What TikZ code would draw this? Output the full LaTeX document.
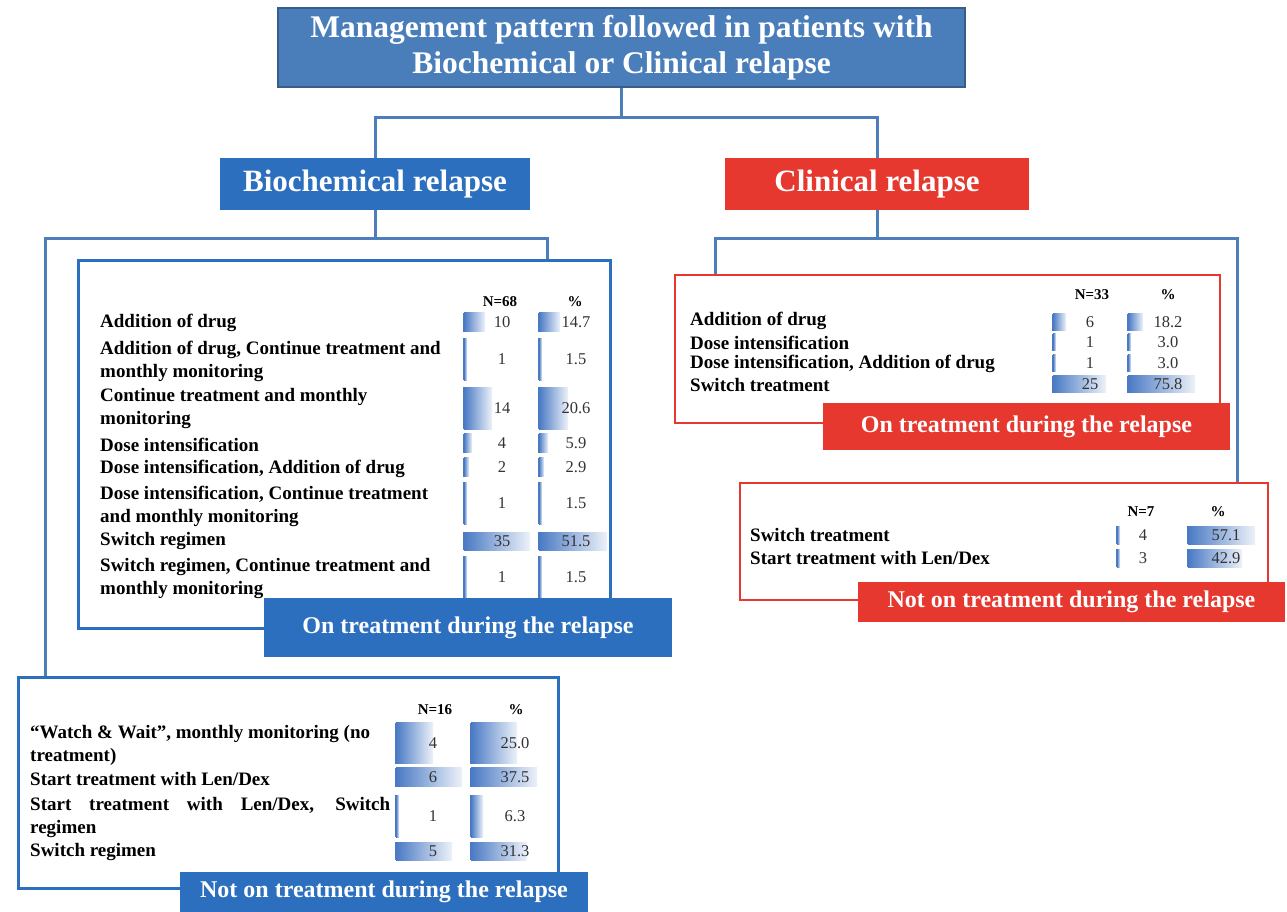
\documentclass[tikz,border=0pt]{standalone}
\usepackage{fontspec}
\setmainfont{Liberation Serif}
\definecolor{titleblue}{RGB}{74,126,187}
\definecolor{titleedge}{RGB}{56,93,138}
\definecolor{deepblue}{RGB}{44,111,190}
\definecolor{linkblue}{RGB}{76,126,188}
\definecolor{relred}{RGB}{230,56,46}
\definecolor{barblue}{RGB}{74,122,196}
\tikzset{
	link/.style={draw=linkblue, line width=3pt},
	fillbox/.style={inner sep=0pt, text=white, align=center},
	framebox/.style={line width=3pt, fill=white, inner sep=0pt},
	rowlabel/.style={anchor=west, inner sep=0pt, align=left, font=\fontsize{19}{23}\selectfont\bfseries},
	colhead/.style={inner sep=0pt, font=\fontsize{15}{18}\selectfont\bfseries},
	cellnum/.style={inner sep=0pt, font=\fontsize{16.5}{18}\selectfont, text=black!80},
	databar/.style={left color=barblue, right color=barblue!10},
	baredge/.style={draw=barblue, line width=1.5pt}
}

\begin{document}
\begin{tikzpicture}[x=1pt, y=-1pt]
	\useasboundingbox (0,0) rectangle (1287,912);

	% Top box and the two kinds of relapse
	\node[fillbox, fill=titleblue, draw=titleedge, line width=1.5pt, minimum width=687pt, minimum height=79pt,
		font=\fontsize{31.5}{36}\selectfont\bfseries] (top) at (621.5,47.5)
		{Management pattern followed in patients with\\Biochemical or Clinical relapse};
	\node[fillbox, fill=deepblue, minimum width=310pt, minimum height=52pt,
		font=\fontsize{31}{36}\selectfont\bfseries] (bio) at (375,184) {Biochemical relapse};
	\node[fillbox, fill=relred, minimum width=304pt, minimum height=52pt,
		font=\fontsize{31}{36}\selectfont\bfseries] (clin) at (877,184) {Clinical relapse};

	% Frames for the four tables
	\node[framebox, draw=deepblue, minimum width=532pt, minimum height=368pt] (onB) at (344,444) {};
	\node[framebox, draw=deepblue, minimum width=540pt, minimum height=211pt] (offB) at (288,782.5) {};
	\node[framebox, draw=relred, line width=2.5pt, minimum width=545pt, minimum height=148pt] (onC) at (947.5,349) {};
	\node[framebox, draw=relred, line width=2.5pt, minimum width=528pt, minimum height=117pt] (offC) at (1004,541.5) {};

	% Connectors
	\draw[link] (top.south) -- (top.south |- 0,118) coordinate (tj);
	\draw[link] (tj) -| (bio.north);
	\draw[link] (tj) -| (clin.north);
	\draw[link] (bio.south) -- (bio.south |- 0,238) coordinate (bj);
	\draw[link] (bj) -| (onB.north -| 547,0);
	\draw[link] (bj) -| (offB.north -| 45,0);
	\draw[link] (clin.south) -- (clin.south |- 0,238) coordinate (cj);
	\draw[link] (cj) -| (onC.north -| 715,0);
	\draw[link] (cj) -| (offC.north -| 1237,0);

	% Biochemical relapse, on treatment
	\node[colhead] (hnOnB) at (500,302) {N=68};
	\node[colhead] (hpOnB) at (575,302) {\%};
	\node[rowlabel] (lOnB1) at (100,323) {Addition of drug};
	\node[rowlabel] (lOnB2) at (100,361) {Addition of drug, Continue treatment and\\monthly monitoring};
	\node[rowlabel] (lOnB3) at (100,409) {Continue treatment and monthly\\monitoring};
	\node[rowlabel] (lOnB4) at (100,445) {Dose intensification};
	\node[rowlabel] (lOnB5) at (100,469) {Dose intensification, Addition of drug};
	\node[rowlabel] (lOnB6) at (100,506) {Dose intensification, Continue treatment\\and monthly monitoring};
	\node[rowlabel] (lOnB7) at (100,541) {Switch regimen};
	\node[rowlabel] (lOnB8) at (100,578) {Switch regimen, Continue treatment and\\monthly monitoring};
	\foreach \yc/\h/\wn/\n/\wp/\p [count=\i] in {322/19/21/10/21/14.7, 359/42/3/1/3/1.5,
		408/42/28/14/29/20.6, 443/19/8/4/9/5.9, 467/19/5/2/5/2.9, 503/42/3/1/3/1.5,
		541/18/66/35/68/51.5, 577/42/3/1/3/1.5}{
		\shade[databar] (464,{\yc-\h/2}) rectangle ({464+\wn},{\yc+\h/2});
		\shade[databar] (539,{\yc-\h/2}) rectangle ({539+\wp},{\yc+\h/2});
		\draw[baredge] (464,{\yc-\h/2}) -- (464,{\yc+\h/2});
		\draw[baredge] (539,{\yc-\h/2}) -- (539,{\yc+\h/2});
		\node[cellnum] (nOnB\i) at (502,\yc) {\n};
		\node[cellnum] (pOnB\i) at (576,\yc) {\p};
	}

	% Biochemical relapse, not on treatment
	\node[colhead] (hnOffB) at (435,710) {N=16};
	\node[colhead] (hpOffB) at (516,710) {\%};
	\node[rowlabel] (lOffB1) at (30,745) {“Watch \& Wait”, monthly monitoring (no\\treatment)};
	\node[rowlabel] (lOffB2) at (30,779) {Start treatment with Len/Dex};
	\node[rowlabel] (lOffB3) at (30,817) {\makebox[360pt][s]{Start treatment with Len/Dex, Switch}\\regimen};
	\node[rowlabel] (lOffB4) at (30,852) {Switch regimen};
	\foreach \yc/\h/\wn/\n/\wp/\p [count=\i] in {743/41/37/4/46/25.0, 777/19/66/6/66/37.5,
		816/42/3/1/12/6.3, 851/18/56/5/56/31.3}{
		\shade[databar] (396,{\yc-\h/2}) rectangle ({396+\wn},{\yc+\h/2});
		\shade[databar] (471,{\yc-\h/2}) rectangle ({471+\wp},{\yc+\h/2});
		\draw[baredge] (396,{\yc-\h/2}) -- (396,{\yc+\h/2});
		\draw[baredge] (471,{\yc-\h/2}) -- (471,{\yc+\h/2});
		\node[cellnum] (nOffB\i) at (433,\yc) {\n};
		\node[cellnum] (pOffB\i) at (515,\yc) {\p};
	}

	% Clinical relapse, on treatment
	\node[colhead] (hnOnC) at (1092,295) {N=33};
	\node[colhead] (hpOnC) at (1168,295) {\%};
	\node[rowlabel] (lOnC1) at (690,321) {Addition of drug};
	\node[rowlabel] (lOnC2) at (690,343) {Dose intensification};
	\node[rowlabel] (lOnC3) at (690,364) {Dose intensification, Addition of drug};
	\node[rowlabel] (lOnC4) at (690,385) {Switch treatment};
	\foreach \yc/\wn/\n/\wp/\p [count=\i] in {322/13/6/15/18.2, 342/3/1/3/3.0,
		363/3/1/3/3.0, 384/53/25/67/75.8}{
		\shade[databar] (1053,{\yc-8.5}) rectangle ({1053+\wn},{\yc+8.5});
		\shade[databar] (1128,{\yc-8.5}) rectangle ({1128+\wp},{\yc+8.5});
		\draw[baredge] (1053,{\yc-8.5}) -- (1053,{\yc+8.5});
		\draw[baredge] (1128,{\yc-8.5}) -- (1128,{\yc+8.5});
		\node[cellnum] (nOnC\i) at (1090,\yc) {\n};
		\node[cellnum] (pOnC\i) at (1168,\yc) {\p};
	}

	% Clinical relapse, not on treatment
	\node[colhead] (hnOffC) at (1141,512) {N=7};
	\node[colhead] (hpOffC) at (1218,512) {\%};
	\node[rowlabel] (lOffC1) at (750,535) {Switch treatment};
	\node[rowlabel] (lOffC2) at (750,558) {Start treatment with Len/Dex};
	\foreach \yc/\wn/\n/\wp/\p [count=\i] in {535/3/4/67/57.1, 558/3/3/54/42.9}{
		\shade[databar] (1117,{\yc-9}) rectangle ({1117+\wn},{\yc+9});
		\shade[databar] (1188,{\yc-9}) rectangle ({1188+\wp},{\yc+9});
		\draw[baredge] (1117,{\yc-9}) -- (1117,{\yc+9});
		\draw[baredge] (1188,{\yc-9}) -- (1188,{\yc+9});
		\node[cellnum] (nOffC\i) at (1143,\yc) {\n};
		\node[cellnum] (pOffC\i) at (1226,\yc) {\p};
	}

	% Labels under the frames
	\node[fillbox, fill=deepblue, minimum width=408pt, minimum height=59pt,
		font=\fontsize{24}{28}\selectfont\bfseries] (onBlab) at (468,627.5) {On treatment during the relapse};
	\node[fillbox, fill=deepblue, minimum width=408pt, minimum height=40pt,
		font=\fontsize{24}{28}\selectfont\bfseries] (offBlab) at (384,892) {Not on treatment during the relapse};
	\node[fillbox, fill=relred, minimum width=407pt, minimum height=47pt,
		font=\fontsize{24}{28}\selectfont\bfseries] (onClab) at (1026.5,426.5) {On treatment during the relapse};
	\node[fillbox, fill=relred, minimum width=427pt, minimum height=40pt,
		font=\fontsize{24}{28}\selectfont\bfseries] (offClab) at (1071.5,602) {Not on treatment during the relapse};
\end{tikzpicture}
\end{document}
